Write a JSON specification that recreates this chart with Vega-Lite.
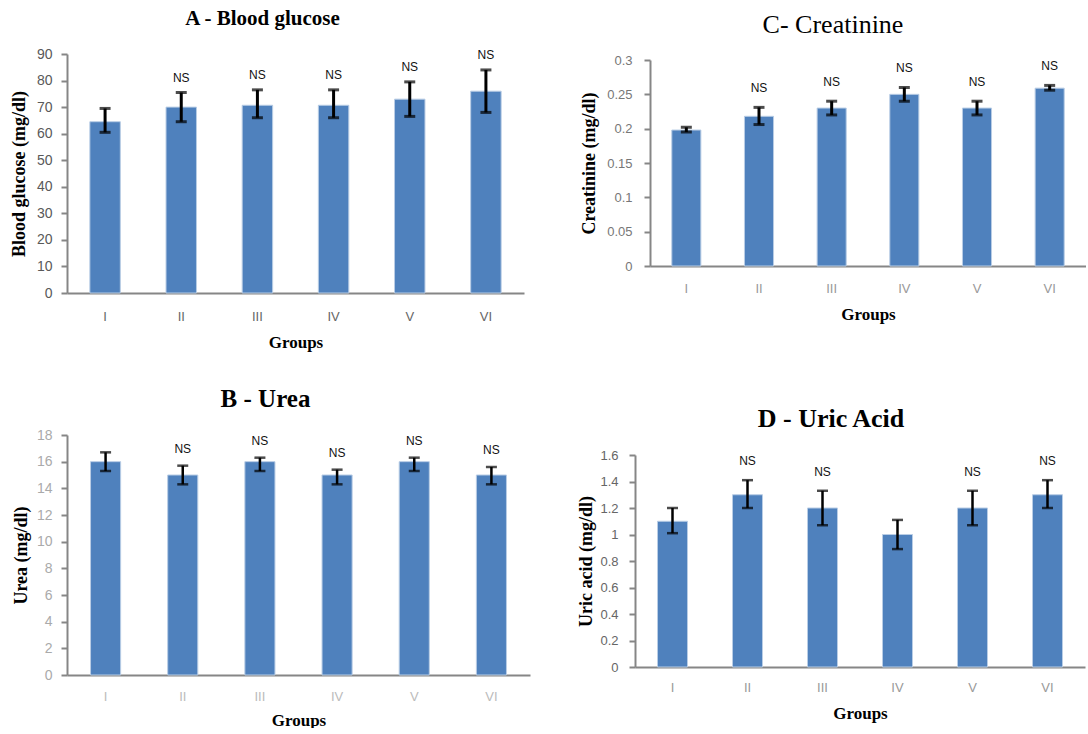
{
  "$schema": "https://vega.github.io/schema/vega-lite/v6.json",
  "background": "white",
  "padding": {"left": 10, "top": 8, "right": 0, "bottom": 0},
  "spacing": 37,
  "config": {
    "view": {"stroke": null},
    "axis": {"domainColor": "#868686", "domainWidth": 2, "tickColor": "#868686", "tickWidth": 2, "grid": false,
      "labelFont": "Liberation Sans", "labelFontSize": 14, "labelColor": "#666666",
      "titleFont": "Liberation Serif", "titleFontWeight": "bold", "titleFontSize": 17, "titleColor": "#000000"},
    "axisX": {"ticks": false, "tickSize": 0, "labelPadding": 16, "labelAngle": 0, "titlePadding": 12, "labelFontSize": 13},
    "axisY": {"tickSize": 6, "labelPadding": 9, "titlePadding": 8, "titleFontSize": 18},
    "title": {"font": "Liberation Serif", "fontWeight": "bold", "color": "#000000", "anchor": "middle"}
  },
  "datasets": {
    "glucose": [
      {"group": "I", "mean": 64.5, "lo": 60.5, "hi": 69.5, "sig": ""},
      {"group": "II", "mean": 70, "lo": 64.5, "hi": 75.5, "sig": "NS"},
      {"group": "III", "mean": 70.7, "lo": 66, "hi": 76.5, "sig": "NS"},
      {"group": "IV", "mean": 70.7, "lo": 66, "hi": 76.5, "sig": "NS"},
      {"group": "V", "mean": 73, "lo": 66.5, "hi": 79.5, "sig": "NS"},
      {"group": "VI", "mean": 76, "lo": 68, "hi": 84, "sig": "NS"}
    ],
    "creatinine": [
      {"group": "I", "mean": 0.198, "lo": 0.195, "hi": 0.202, "sig": ""},
      {"group": "II", "mean": 0.218, "lo": 0.206, "hi": 0.231, "sig": "NS"},
      {"group": "III", "mean": 0.23, "lo": 0.22, "hi": 0.24, "sig": "NS"},
      {"group": "IV", "mean": 0.25, "lo": 0.24, "hi": 0.26, "sig": "NS"},
      {"group": "V", "mean": 0.23, "lo": 0.22, "hi": 0.24, "sig": "NS"},
      {"group": "VI", "mean": 0.259, "lo": 0.256, "hi": 0.263, "sig": "NS"}
    ],
    "urea": [
      {"group": "I", "mean": 16, "lo": 15.3, "hi": 16.7, "sig": ""},
      {"group": "II", "mean": 15, "lo": 14.3, "hi": 15.7, "sig": "NS"},
      {"group": "III", "mean": 16, "lo": 15.3, "hi": 16.3, "sig": "NS"},
      {"group": "IV", "mean": 15, "lo": 14.3, "hi": 15.4, "sig": "NS"},
      {"group": "V", "mean": 16, "lo": 15.3, "hi": 16.3, "sig": "NS"},
      {"group": "VI", "mean": 15, "lo": 14.3, "hi": 15.6, "sig": "NS"}
    ],
    "uric": [
      {"group": "I", "mean": 1.1, "lo": 1.01, "hi": 1.2, "sig": ""},
      {"group": "II", "mean": 1.3, "lo": 1.2, "hi": 1.41, "sig": "NS"},
      {"group": "III", "mean": 1.2, "lo": 1.07, "hi": 1.33, "sig": "NS"},
      {"group": "IV", "mean": 1.0, "lo": 0.89, "hi": 1.11, "sig": ""},
      {"group": "V", "mean": 1.2, "lo": 1.07, "hi": 1.33, "sig": "NS"},
      {"group": "VI", "mean": 1.3, "lo": 1.2, "hi": 1.41, "sig": "NS"}
    ]
  },
  "vconcat": [
    {
      "spacing": 56,
      "hconcat": [
        {
          "width": 457, "height": 239,
          "data": {"name": "glucose"},
          "title": {"text": "A - Blood glucose", "fontSize": 21, "dx": -33, "offset": 18},
          "encoding": {"x": {"field": "group", "type": "nominal", "sort": null, "title": "Groups",
            "scale": {"paddingInner": 0.6, "paddingOuter": 0.3}, "axis": {"labelPadding": 17, "titlePadding": 11}}},
          "layer": [
            {"mark": {"type": "bar", "color": "#4F81BD", "stroke": "#B9CDE5", "strokeWidth": 1},
             "encoding": {"y": {"field": "mean", "type": "quantitative", "title": "Blood glucose (mg/dl)",
               "scale": {"domain": [0, 90], "nice": false}, "axis": {"values": [0,10,20,30,40,50,60,70,80,90], "labelColor": "#595959", "titlePadding": 8}}}},
            {"mark": {"type": "rule", "color": "#000000", "strokeWidth": 3},
             "encoding": {"y": {"field": "lo", "type": "quantitative", "title": "Blood glucose (mg/dl)", "axis": {"values": [0,10,20,30,40,50,60,70,80,90], "labelColor": "#595959", "titlePadding": 8}}, "y2": {"field": "hi"}}},
            {"mark": {"type": "tick", "color": "#000000", "size": 11, "thickness": 3},
             "encoding": {"y": {"field": "lo", "type": "quantitative", "title": "Blood glucose (mg/dl)", "axis": {"values": [0,10,20,30,40,50,60,70,80,90], "labelColor": "#595959", "titlePadding": 8}}}},
            {"mark": {"type": "tick", "color": "#000000", "size": 11, "thickness": 3},
             "encoding": {"y": {"field": "hi", "type": "quantitative", "title": "Blood glucose (mg/dl)", "axis": {"values": [0,10,20,30,40,50,60,70,80,90], "labelColor": "#595959", "titlePadding": 8}}}},
            {"mark": {"type": "text", "font": "Liberation Sans", "fontSize": 12, "color": "#111111", "dy": -15},
             "encoding": {"y": {"field": "hi", "type": "quantitative", "title": "Blood glucose (mg/dl)", "axis": {"values": [0,10,20,30,40,50,60,70,80,90], "labelColor": "#595959", "titlePadding": 8}}, "text": {"field": "sig"}}}
          ]
        },
        {
          "width": 436, "height": 212,
          "data": {"name": "creatinine"},
          "title": {"text": "C- Creatinine", "fontSize": 26, "fontWeight": "normal", "dx": -35, "offset": 16},
          "encoding": {"x": {"field": "group", "type": "nominal", "sort": null, "title": "Groups",
            "scale": {"paddingInner": 0.6, "paddingOuter": 0.3}, "axis": {"labelColor": "#999999", "labelPadding": 16, "titlePadding": 11}}},
          "layer": [
            {"mark": {"type": "bar", "color": "#4F81BD", "stroke": "#B9CDE5", "strokeWidth": 1},
             "encoding": {"y": {"field": "mean", "type": "quantitative", "title": "Creatinine (mg/dl)",
               "scale": {"domain": [0, 0.3], "nice": false, "range": [212, 6]}, "axis": {"values": [0,0.05,0.1,0.15,0.2,0.25,0.3], "format": "~g", "labelColor": "#777777", "labelFontSize": 13, "labelPadding": 12, "titlePadding": 8}}}},
            {"mark": {"type": "rule", "color": "#000000", "strokeWidth": 3},
             "encoding": {"y": {"field": "lo", "type": "quantitative", "title": "Creatinine (mg/dl)", "axis": {"values": [0,0.05,0.1,0.15,0.2,0.25,0.3], "format": "~g", "labelColor": "#777777", "labelFontSize": 13, "labelPadding": 12, "titlePadding": 8}}, "y2": {"field": "hi"}}},
            {"mark": {"type": "tick", "color": "#000000", "size": 11, "thickness": 3},
             "encoding": {"y": {"field": "lo", "type": "quantitative", "title": "Creatinine (mg/dl)", "axis": {"values": [0,0.05,0.1,0.15,0.2,0.25,0.3], "format": "~g", "labelColor": "#777777", "labelFontSize": 13, "labelPadding": 12, "titlePadding": 8}}}},
            {"mark": {"type": "tick", "color": "#000000", "size": 11, "thickness": 3},
             "encoding": {"y": {"field": "hi", "type": "quantitative", "title": "Creatinine (mg/dl)", "axis": {"values": [0,0.05,0.1,0.15,0.2,0.25,0.3], "format": "~g", "labelColor": "#777777", "labelFontSize": 13, "labelPadding": 12, "titlePadding": 8}}}},
            {"mark": {"type": "text", "font": "Liberation Sans", "fontSize": 12, "color": "#111111", "dy": -19},
             "encoding": {"y": {"field": "hi", "type": "quantitative", "title": "Creatinine (mg/dl)", "axis": {"values": [0,0.05,0.1,0.15,0.2,0.25,0.3], "format": "~g", "labelColor": "#777777", "labelFontSize": 13, "labelPadding": 12, "titlePadding": 8}}, "text": {"field": "sig"}}}
          ]
        }
      ]
    },
    {
      "spacing": 47,
      "hconcat": [
        {
          "width": 463, "height": 240,
          "data": {"name": "urea"},
          "title": {"text": "B - Urea", "fontSize": 25, "dx": -33, "offset": 16},
          "encoding": {"x": {"field": "group", "type": "nominal", "sort": null, "title": "Groups",
            "scale": {"paddingInner": 0.61, "paddingOuter": 0.305}, "axis": {"labelColor": "#bbbbbb", "labelPadding": 15, "titlePadding": 9}}},
          "layer": [
            {"mark": {"type": "bar", "color": "#4F81BD", "stroke": "#B9CDE5", "strokeWidth": 1},
             "encoding": {"y": {"field": "mean", "type": "quantitative", "title": "Urea (mg/dl)",
               "scale": {"domain": [0, 18], "nice": false}, "axis": {"values": [0,2,4,6,8,10,12,14,16,18], "labelColor": "#aaaaaa", "titlePadding": 6}}}},
            {"mark": {"type": "rule", "color": "#000000", "strokeWidth": 2.5},
             "encoding": {"y": {"field": "lo", "type": "quantitative", "title": "Urea (mg/dl)", "axis": {"values": [0,2,4,6,8,10,12,14,16,18], "labelColor": "#aaaaaa", "titlePadding": 6}}, "y2": {"field": "hi"}}},
            {"mark": {"type": "tick", "color": "#000000", "size": 11, "thickness": 2.5},
             "encoding": {"y": {"field": "lo", "type": "quantitative", "title": "Urea (mg/dl)", "axis": {"values": [0,2,4,6,8,10,12,14,16,18], "labelColor": "#aaaaaa", "titlePadding": 6}}}},
            {"mark": {"type": "tick", "color": "#000000", "size": 11, "thickness": 2.5},
             "encoding": {"y": {"field": "hi", "type": "quantitative", "title": "Urea (mg/dl)", "axis": {"values": [0,2,4,6,8,10,12,14,16,18], "labelColor": "#aaaaaa", "titlePadding": 6}}}},
            {"mark": {"type": "text", "font": "Liberation Sans", "fontSize": 12, "color": "#111111", "dy": -17},
             "encoding": {"y": {"field": "hi", "type": "quantitative", "title": "Urea (mg/dl)", "axis": {"values": [0,2,4,6,8,10,12,14,16,18], "labelColor": "#aaaaaa", "titlePadding": 6}}, "text": {"field": "sig"}}}
          ]
        },
        {
          "width": 450, "height": 232,
          "data": {"name": "uric"},
          "title": {"text": "D - Uric Acid", "fontSize": 26, "dx": -29, "offset": 3},
          "encoding": {"x": {"field": "group", "type": "nominal", "sort": null, "title": "Groups",
            "scale": {"paddingInner": 0.6, "paddingOuter": 0.3}, "axis": {"labelColor": "#999999", "labelPadding": 14, "titlePadding": 11}}},
          "layer": [
            {"mark": {"type": "bar", "color": "#4F81BD", "stroke": "#B9CDE5", "strokeWidth": 1},
             "encoding": {"y": {"field": "mean", "type": "quantitative", "title": "Uric acid (mg/dl)",
               "scale": {"domain": [0, 1.6], "nice": false, "range": [232, 20]}, "axis": {"values": [0,0.2,0.4,0.6,0.8,1,1.2,1.4,1.6], "format": "~g", "labelColor": "#666666", "labelFontSize": 13, "labelPadding": 11, "titlePadding": 4}}}},
            {"mark": {"type": "rule", "color": "#000000", "strokeWidth": 2.5},
             "encoding": {"y": {"field": "lo", "type": "quantitative", "title": "Uric acid (mg/dl)", "axis": {"values": [0,0.2,0.4,0.6,0.8,1,1.2,1.4,1.6], "format": "~g", "labelColor": "#666666", "labelFontSize": 13, "labelPadding": 11, "titlePadding": 4}}, "y2": {"field": "hi"}}},
            {"mark": {"type": "tick", "color": "#000000", "size": 11, "thickness": 2.5},
             "encoding": {"y": {"field": "lo", "type": "quantitative", "title": "Uric acid (mg/dl)", "axis": {"values": [0,0.2,0.4,0.6,0.8,1,1.2,1.4,1.6], "format": "~g", "labelColor": "#666666", "labelFontSize": 13, "labelPadding": 11, "titlePadding": 4}}}},
            {"mark": {"type": "tick", "color": "#000000", "size": 11, "thickness": 2.5},
             "encoding": {"y": {"field": "hi", "type": "quantitative", "title": "Uric acid (mg/dl)", "axis": {"values": [0,0.2,0.4,0.6,0.8,1,1.2,1.4,1.6], "format": "~g", "labelColor": "#666666", "labelFontSize": 13, "labelPadding": 11, "titlePadding": 4}}}},
            {"mark": {"type": "text", "font": "Liberation Sans", "fontSize": 12, "color": "#111111", "dy": -19},
             "encoding": {"y": {"field": "hi", "type": "quantitative", "title": "Uric acid (mg/dl)", "axis": {"values": [0,0.2,0.4,0.6,0.8,1,1.2,1.4,1.6], "format": "~g", "labelColor": "#666666", "labelFontSize": 13, "labelPadding": 11, "titlePadding": 4}}, "text": {"field": "sig"}}}
          ]
        }
      ]
    }
  ]
}
